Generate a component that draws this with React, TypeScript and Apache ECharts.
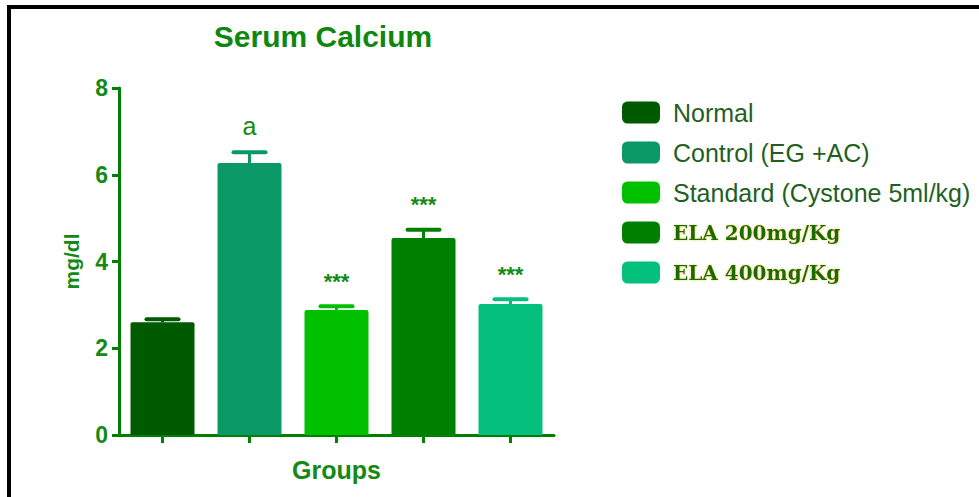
import React, { useEffect, useRef } from "react";
import * as echarts from "echarts";

const categories = ["Normal", "Control (EG +AC)", "Standard (Cystone 5ml/kg)", "ELA 200mg/Kg", "ELA 400mg/Kg"];
const means = [2.6, 6.27, 2.88, 4.54, 3.02];
const errors = [0.07, 0.25, 0.09, 0.19, 0.11];
const sigLabels = ["", "a", "***", "***", "***"];
const colors = ["#005a00", "#0a9966", "#00c000", "#008000", "#05c07c"];
const yTicks = { min: 0, max: 8, interval: 2 };

const AXIS_GREEN = "#008000";
const TEXT_GREEN = "#138a13";

export default function App() {
  const ref = useRef<HTMLDivElement>(null);
  useEffect(() => {
    if (!ref.current) return;
    const chart = echarts.init(ref.current, null, { renderer: "svg" });

    const barSeries = categories.map((name, i) => ({
      name,
      type: "bar",
      stack: "all",
      barWidth: 64,
      data: categories.map((_, j) => (j === i ? means[j] : "-")),
      itemStyle: { color: colors[i], borderRadius: [2, 2, 0, 0] },
      z: 2,
    }));

    const errData = means.map((m, i) => [i, m, m + errors[i]]);

    const legendData = categories.map((name, i) => {
      const isEla = i >= 3;
      return {
        name,
        icon: "roundRect",
        itemStyle: { color: colors[i] },
        textStyle: isEla
          ? {
              fontFamily: "DejaVu Serif",
              fontWeight: "bold",
              fontSize: 20,
              lineHeight: 25,
              color: "#1d6a05",
              textShadowColor: "rgba(220,200,60,0.8)",
              textShadowBlur: 2,
              padding: [0, 0, 0, 8],
            }
          : {
              fontFamily: "Liberation Sans",
              fontSize: 25,
              lineHeight: 22,
              color: "#1f5f1f",
              padding: [0, 0, 0, 8],
            },
      };
    });

    chart.setOption({
      animation: false,
      backgroundColor: "#ffffff",
      title: {
        text: "Serum Calcium",
        left: 318,
        top: 16,
        textAlign: "center",
        textStyle: {
          fontFamily: "Liberation Sans",
          fontWeight: "bold",
          fontSize: 30,
          color: "#0e870e",
        },
      },
      legend: {
        orient: "vertical",
        left: 617,
        top: 95,
        itemWidth: 38,
        itemHeight: 22,
        itemGap: 15,
        selectedMode: false,
        data: legendData,
      },
      grid: { left: 119, right: 425, top: 88, bottom: 62, containLabel: false },
      xAxis: {
        type: "category",
        data: categories,
        boundaryGap: true,
        name: "Groups",
        nameLocation: "middle",
        nameGap: 22,
        nameTextStyle: {
          fontFamily: "Liberation Sans",
          fontWeight: "bold",
          fontSize: 25,
          color: TEXT_GREEN,
        },
        axisLine: { lineStyle: { color: AXIS_GREEN, width: 3 } },
        axisTick: {
          show: true,
          interval: 0,
          alignWithLabel: true,
          length: 8,
          lineStyle: { color: AXIS_GREEN, width: 3 },
        },
        axisLabel: { show: false, interval: 0 },
        splitLine: { show: false },
      },
      yAxis: {
        type: "value",
        min: yTicks.min,
        max: yTicks.max,
        interval: yTicks.interval,
        name: "mg/dl",
        nameLocation: "middle",
        nameGap: 37,
        nameTextStyle: {
          fontFamily: "Liberation Sans",
          fontWeight: "bold",
          fontSize: 21,
          color: TEXT_GREEN,
        },
        axisLine: { show: true, lineStyle: { color: AXIS_GREEN, width: 3 } },
        axisTick: { show: true, length: 7, lineStyle: { color: AXIS_GREEN, width: 3 } },
        axisLabel: {
          margin: 11,
          fontFamily: "Liberation Sans",
          fontWeight: "bold",
          fontSize: 23,
          color: TEXT_GREEN,
        },
        splitLine: { show: false },
      },
      series: [
        ...barSeries,
        {
          type: "custom",
          name: "err",
          data: errData,
          encode: { x: 0, y: [1, 2] },
          z: 3,
          renderItem: (params: any, api: any) => {
            const idx = api.value(0);
            const base = api.coord([idx, api.value(1)]);
            const top = api.coord([idx, api.value(2)]);
            const c = colors[idx];
            const half = 16;
            const lbl = sigLabels[idx];
            const children: any[] = [
              {
                type: "line",
                shape: { x1: base[0], y1: base[1], x2: top[0], y2: top[1] },
                style: { stroke: c, lineWidth: 3 },
              },
              {
                type: "line",
                shape: { x1: top[0] - half, y1: top[1], x2: top[0] + half, y2: top[1] },
                style: { stroke: c, lineWidth: 4, lineCap: "round" },
              },
            ];
            if (lbl) {
              const isA = lbl === "a";
              children.push({
                type: "text",
                x: top[0],
                y: top[1] - (isA ? 26 : 25),
                style: {
                  text: lbl,
                  align: "center",
                  verticalAlign: "middle",
                  fontFamily: "Liberation Sans",
                  fontWeight: isA ? "normal" : "bold",
                  fontSize: isA ? 25 : 22,
                  fill: TEXT_GREEN,
                },
              });
            }
            return { type: "group", children };
          },
        },
      ],
      graphic: [
        { type: "rect", shape: { x: 7, y: 5, width: 972, height: 4 }, style: { fill: "#000" } },
        { type: "rect", shape: { x: 7, y: 5, width: 4, height: 492 }, style: { fill: "#000" } },
      ],
    });
    return () => chart.dispose();
  }, []);
  return (
    <div
      ref={ref}
      style={{ position: "fixed", left: 0, top: 0, width: 979, height: 497, background: "#fff" }}
    />
  );
}
